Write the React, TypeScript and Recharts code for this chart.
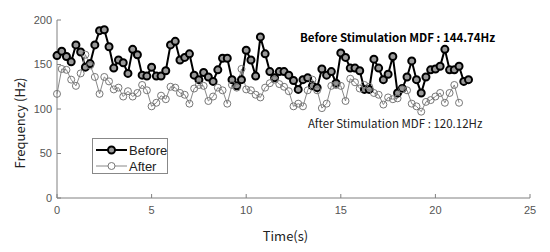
import { Label, Line, LineChart, XAxis, YAxis } from "recharts";

// sampled every 0.25 s
const STEP = 0.25;

const beforeHz = [
    160, 165, 159, 153, 172, 164, 147, 151, 172, 188,
    189, 170, 146, 155, 152, 140, 167, 161, 138, 137,
    147, 137, 137, 143, 172, 176, 155, 158, 162, 138,
    133, 141, 136, 131, 144, 157, 157, 133, 126, 133,
    166, 155, 137, 181, 162, 142, 135, 142, 142, 138,
    132, 122, 133, 135, 126, 124, 145, 138, 142, 129,
    163, 158, 146, 146, 143, 122, 122, 156, 146, 133,
    139, 159, 118, 123, 136, 154, 133, 118, 136, 144,
    145, 148, 167, 144, 144, 148, 131, 133
];

const afterHz = [
    117, 145, 144, 133, 126, 140, 161, 149, 136, 117,
    136, 131, 122, 124, 114, 120, 114, 118, 127, 121,
    103, 107, 115, 111, 125, 124, 118, 116, 106, 123,
    127, 126, 109, 114, 124, 121, 106, 127, 124, 145,
    122, 121, 116, 113, 124, 129, 133, 128, 125, 120,
    103, 106, 103, 121, 133, 121, 101, 106, 126, 127,
    126, 109, 134, 130, 123, 127, 125, 118, 116, 105,
    113, 111, 112, 122, 121, 106, 103, 97, 108, 110,
    114, 118, 107, 118, 127, 107
];

const xTicks = [0, 5, 10, 15, 20, 25];
const yTicks = [0, 50, 100, 150, 200];

const data = beforeHz.map((v, i) => ({ t: i * STEP, before: v, after: afterHz[i] }));

const sansFont = "'Liberation Sans', Arial, sans-serif";
const tickStyle = { fill: "#555", fontSize: 11, fontFamily: sansFont };
const labelFont = "'Noto Sans CJK KR', 'Noto Sans', sans-serif";

export default function App() {
    return (
        <div style={{ position: "relative", width: 542, height: 244 }}>
            <LineChart
                width={542}
                height={244}
                data={data}
                margin={{ top: 12, right: 20, left: 0, bottom: 24 }}
            >
                <XAxis
                    dataKey="t"
                    type="number"
                    domain={[0, 25]}
                    ticks={xTicks}
                    height={30}
                    tickSize={-4}
                    tickMargin={12}
                    stroke="#808080"
                    tick={tickStyle}
                >
                    <Label
                        content={({ viewBox }: any) => (
                            <text
                                x={viewBox.x + viewBox.width / 2 - 8}
                                y={viewBox.y + 43}
                                textAnchor="middle"
                                fontSize={13}
                                fontFamily={labelFont}
                                fill="#222"
                            >
                                Time(s)
                            </text>
                        )}
                    />
                </XAxis>
                <YAxis
                    domain={[0, 200]}
                    ticks={yTicks}
                    width={49}
                    tickSize={-4}
                    tickMargin={9}
                    stroke="#808080"
                    tick={tickStyle}
                >
                    <Label
                        content={({ viewBox }: any) => {
                            const cx = 11;
                            const cy = viewBox.y + viewBox.height / 2 + 14;
                            return (
                                <text
                                    x={cx}
                                    y={cy}
                                    transform={`rotate(-90, ${cx}, ${cy})`}
                                    textAnchor="middle"
                                    dominantBaseline="central"
                                    fontSize={13}
                                    fontFamily={labelFont}
                                    fill="#222"
                                >
                                    Frequency (Hz)
                                </text>
                            );
                        }}
                    />
                </YAxis>
                <Line
                    dataKey="before"
                    stroke="#000"
                    strokeWidth={2}
                    dot={{ r: 3.5, stroke: "#000", strokeWidth: 2, fill: "#999" }}
                    isAnimationActive={false}
                />
                <Line
                    dataKey="after"
                    stroke="#888"
                    strokeWidth={1}
                    dot={{ r: 3.5, stroke: "#777", strokeWidth: 1, fill: "none" }}
                    isAnimationActive={false}
                />
            </LineChart>

            <div style={{ position: "absolute", left: 292, top: 21, fontFamily: labelFont, fontWeight: 700, fontSize: 11.5, whiteSpace: "nowrap", color: "#000" }}>
                Before Stimulation MDF : 144.74Hz
            </div>
            <div style={{ position: "absolute", left: 300, top: 107, fontFamily: labelFont, fontSize: 11.5, whiteSpace: "nowrap", color: "#222" }}>
                After Stimulation MDF : 120.12Hz
            </div>

            <div style={{ position: "absolute", left: 84, top: 130, width: 74, height: 34, border: "1px solid #888", background: "#fff" }}>
                <svg width={74} height={34} style={{ position: "absolute", left: 0, top: 0 }}>
                    <line x1={3} x2={34} y1={11} y2={11} stroke="#000" strokeWidth={2} />
                    <circle cx={18.5} cy={11} r={3.5} stroke="#000" strokeWidth={2} fill="#999" />
                    <line x1={3} x2={34} y1={27} y2={27} stroke="#888" strokeWidth={1} />
                    <circle cx={18.5} cy={27} r={3.5} stroke="#777" strokeWidth={1} fill="#fff" />
                    <text x={36} y={15.5} fontSize={13} fontFamily={sansFont} fill="#222">Before</text>
                    <text x={36} y={31.5} fontSize={13} fontFamily={sansFont} fill="#222">After</text>
                </svg>
            </div>
        </div>
    );
}
